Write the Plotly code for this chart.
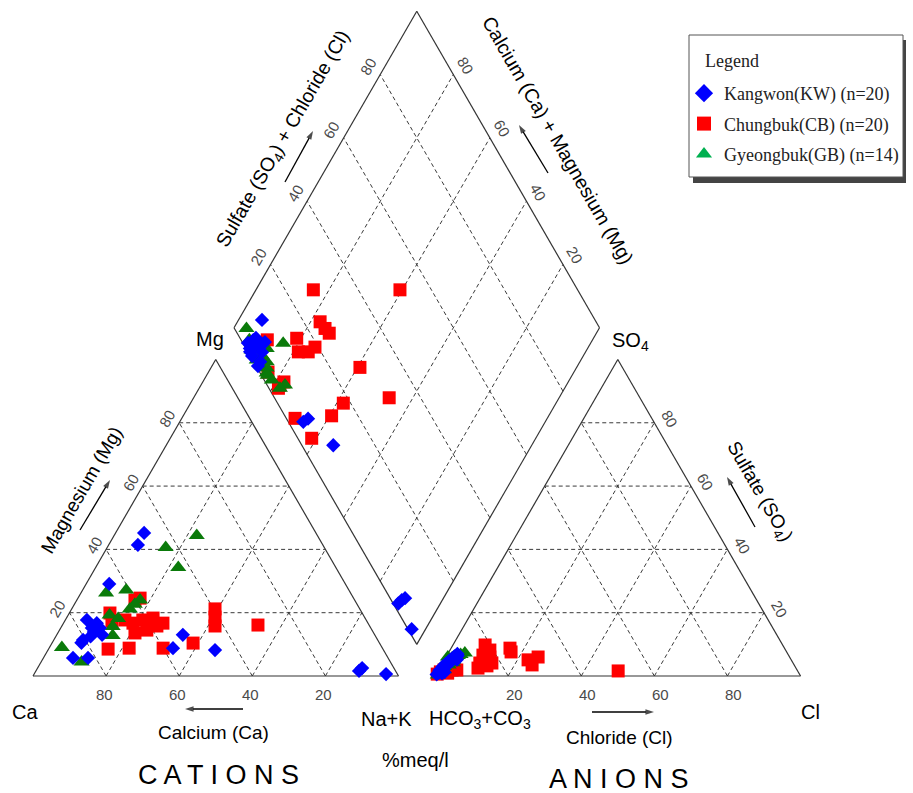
import numpy as np
import plotly.graph_objects as go

# ---------------------------------------------------------------
# Sample chemistry, % meq/l
# ---------------------------------------------------------------
# Cation triangle: Ca and Mg (Na+K is the remainder to 100)
kw_ca = [47.0, 50.6, 64.6, 76.4, 74.2, 74.6, 76.4, 80.6, 86.2, 82.1,
         52.5, 57.3, 46.1, 10.0, 3.1, 76.3, 74.1, 8.7, 81.5, 78.0]
kw_mg = [45.2, 41.4, 29.1, 17.7, 16.7, 13.0, 13.9, 11.4, 5.7, 5.7,
         13.0, 8.8, 8.2, 1.6, 0.6, 15.2, 15.2, 2.5, 10.5, 12.5]
cb_ca = [75.2, 69.3, 60.0, 51.0, 30.4, 69.0, 60.1, 39.6, 40.9, 42.3,
         64.3, 61.1, 58.0, 56.1, 65.3, 61.6, 66.0, 69.7, 58.4, 58.2]
cb_mg = [8.5, 8.8, 8.8, 10.4, 16.1, 19.9, 24.0, 21.2, 18.6, 15.8,
         16.7, 17.7, 18.3, 16.7, 13.6, 14.5, 17.7, 17.4, 24.6, 15.8]
gb_ca = [33.0, 43.4, 43.1, 60.9, 66.9, 58.7, 62.9, 69.4, 67.6, 70.4,
         71.8, 87.6, 84.5, 60.8]
gb_mg = [44.4, 40.6, 34.3, 27.2, 26.2, 24.0, 21.2, 19.3, 18.2, 15.6,
         12.8, 9.0, 4.4, 22.7]

# Anion triangle: Cl and SO4 (HCO3+CO3 is the remainder to 100)
kw_cl = [0.2, 0.5, 0.8, 1.0, 1.2, 0.6, 1.5, 1.0, 1.8, 1.4,
         2.2, 1.8, 2.6, 2.2, 3.0, 2.6, 0.3, 2.0, 1.5, 3.4]
kw_so4 = [0.5, 1.0, 1.5, 2.0, 2.5, 3.0, 3.2, 3.8, 4.0, 4.6,
          4.8, 5.4, 5.6, 6.2, 6.4, 7.0, 1.8, 1.2, 0.8, 5.2]
cb_cl = [8.8, 10.9, 16.1, 17.0, 10.2, 12.6, 10.5, 22.9, 25.2, 24.8,
         49.3, 5.0, 0.8, 13.5, 9.8, 1.5, 3.0, 0.3, 3.7, 12.0]
cb_so4 = [9.8, 8.2, 8.8, 7.6, 4.1, 3.2, 2.5, 5.1, 6.0, 3.5,
          1.6, 1.9, 1.3, 4.1, 6.6, 1.9, 0.9, 0.6, 1.9, 6.0]
gb_cl = [4.5, 0.5, 0.6, 3.0, 2.5, 1.0, 1.5, 2.0, 0.8, 3.6,
         1.2, 2.8, 0.3, 1.8]
gb_so4 = [7.3, 6.0, 0.3, 6.5, 5.0, 3.0, 2.0, 3.5, 1.2, 6.8,
          4.5, 4.2, 2.2, 5.8]

# Diamond: Ca+Mg and SO4+Cl
kw_camg = [93.6, 92.8, 90.6, 92.4, 87.5, 65.4, 66.2, 54.3, 11.1, 11.5,
           3.8, 10.5, 93.8, 92.4, 88.5, 90.6, 91.8, 87.4, 89.3, 91.5]
kw_so4cl = [8.9, 3.3, 4.0, 1.1, 1.8, 5.9, 4.1, 8.6, 2.9, 1.4,
            1.0, 4.1, 1.4, 4.4, 3.8, 0.5, 0.6, 0.5, 6.2, 2.8]
cb_camg = [84.3, 60.6, 77.4, 75.0, 73.1, 81.2, 89.0, 78.6, 75.9, 74.8,
           59.3, 78.4, 78.3, 46.5, 58.2, 59.4, 69.0, 61.3, 83.7, 77.8]
cb_so4cl = [27.7, 51.4, 24.5, 24.8, 25.2, 15.5, 7.2, 13.8, 16.5, 19.1,
            28.2, 3.5, 2.6, 31.4, 18.0, 12.8, 2.4, 3.8, 2.3, 5.1]
gb_camg = [96.5, 84.1, 87.8, 91.7, 88.7, 85.7, 84.7, 83.9, 83.3, 77.0,
           77.9, 93.9, 87.9, 81.4]
gb_so4cl = [3.3, 11.0, 5.7, 1.3, 1.1, 3.6, 2.6, 1.8, 1.7, 4.9,
            3.0, 2.3, 3.2, 2.1]

groups = [
    dict(name="Kangwon(KW) (n=20)", ca=kw_ca, mg=kw_mg, cl=kw_cl, so4=kw_so4,
         camg=kw_camg, so4cl=kw_so4cl, symbol="diamond", size=11,
         color="#0000FF", legend_color="#0000FF"),
    dict(name="Chungbuk(CB) (n=20)", ca=cb_ca, mg=cb_mg, cl=cb_cl, so4=cb_so4,
         camg=cb_camg, so4cl=cb_so4cl, symbol="square", size=13,
         color="#FF0000", legend_color="#FF0000"),
    dict(name="Gyeongbuk(GB) (n=14)", ca=gb_ca, mg=gb_mg, cl=gb_cl, so4=gb_so4,
         camg=gb_camg, so4cl=gb_so4cl, symbol="triangle-up", size=14,
         color="#0A7A0A", legend_color="#00B050"),
]

# ---------------------------------------------------------------
# Piper geometry (one percent = one unit, triangle side = 100)
# ---------------------------------------------------------------
W, HGT = 913, 793
PX = 3.655              # screen pixels per unit
X0, Y0 = 33, 676        # screen position of the Ca corner
SIDE, GAP = 100.0, 10.0
S3 = np.sqrt(3) / 2
BX, BY = SIDE + GAP / 2, GAP * S3      # bottom vertex of the diamond

SANS = "Liberation Sans, Arial, sans-serif"
SERIF = "Liberation Serif, Times New Roman, serif"


def to_units(px, py):
    return (px - X0) / PX, (Y0 - py) / PX


def cation_xy(ca, mg):
    nak = 100 - np.asarray(ca) - np.asarray(mg)
    return nak + 0.5 * np.asarray(mg), S3 * np.asarray(mg)


def anion_xy(cl, so4):
    return SIDE + GAP + np.asarray(cl) + 0.5 * np.asarray(so4), S3 * np.asarray(so4)


def diamond_xy(camg, so4cl):
    camg, so4cl = np.asarray(camg), np.asarray(so4cl)
    return BX - 0.5 * camg + 0.5 * so4cl, BY + S3 * (camg + so4cl)


def seg_trace(segments, dash, width, color):
    xs, ys = [], []
    for (xa, ya), (xb, yb) in segments:
        xs += [float(xa), float(xb), None]
        ys += [float(ya), float(yb), None]
    return go.Scatter(x=xs, y=ys, mode="lines", hoverinfo="skip", showlegend=False,
                      line=dict(color=color, width=width, dash=dash))


levels = [20, 40, 60, 80]
grid = []
for k in levels:
    # cation triangle
    grid.append((cation_xy(100 - k, k), cation_xy(0, k)))
    grid.append((cation_xy(k, 0), cation_xy(k, 100 - k)))
    grid.append((cation_xy(100 - k, 0), cation_xy(0, 100 - k)))
    # anion triangle
    grid.append((anion_xy(0, k), anion_xy(100 - k, k)))
    grid.append((anion_xy(k, 0), anion_xy(k, 100 - k)))
    grid.append((anion_xy(100 - k, 0), anion_xy(0, 100 - k)))
    # diamond
    grid.append((diamond_xy(k, 0), diamond_xy(k, 100)))
    grid.append((diamond_xy(0, k), diamond_xy(100, k)))

outline = []
cat_c = [cation_xy(100, 0), cation_xy(0, 0), cation_xy(0, 100)]
an_c = [anion_xy(0, 0), anion_xy(100, 0), anion_xy(0, 100)]
dia_c = [diamond_xy(0, 0), diamond_xy(100, 0), diamond_xy(100, 100), diamond_xy(0, 100)]
for poly in (cat_c, an_c, dia_c):
    for i in range(len(poly)):
        outline.append((poly[i], poly[(i + 1) % len(poly)]))

fig = go.Figure()
fig.add_trace(seg_trace(grid, "4px,3px", 1, "#3a3a3a"))
fig.add_trace(seg_trace(outline, "solid", 1.2, "#333333"))


def arrow_px(tail, head):
    """Thin black arrow from tail to head (screen pixel positions)."""
    tx, ty = to_units(*tail)
    hx, hy = to_units(*head)
    fig.add_trace(go.Scatter(
        x=[tx, hx], y=[ty, hy], mode="lines+markers", hoverinfo="skip",
        showlegend=False, line=dict(color="black", width=1.3),
        marker=dict(symbol=["circle", "arrow"], size=[0, 9], color="black",
                    angleref="previous", line=dict(width=0))))


arrow_px((80, 530), (110, 480))
arrow_px((285, 182), (313, 131))
arrow_px((548, 173), (519, 125))
arrow_px((755, 527), (727, 477))
arrow_px((243, 709), (185, 709))
arrow_px((592, 712), (654, 712))

# sample markers: red first, then green, then blue on top
for g in (groups[1], groups[2], groups[0]):
    cx, cy = cation_xy(g["ca"], g["mg"])
    ax_, ay_ = anion_xy(g["cl"], g["so4"])
    dx, dy = diamond_xy(g["camg"], g["so4cl"])
    fig.add_trace(go.Scatter(
        x=np.concatenate([cx, ax_, dx]), y=np.concatenate([cy, ay_, dy]),
        mode="markers", showlegend=False, name=g["name"],
        marker=dict(symbol=g["symbol"], size=g["size"], color=g["color"],
                    line=dict(width=0))))

# legend entries
for i, g in enumerate(groups):
    fig.add_trace(go.Scatter(
        x=[None], y=[None], mode="markers", name=g["name"], legendgroup=f"g{i}",
        marker=dict(symbol=g["symbol"], size=14, color=g["legend_color"])))

annotations = []


def text_at(x, y, text, size=20, angle=0, color="black", family=SANS):
    annotations.append(dict(x=x, y=y, xref="x", yref="y", text=text, showarrow=False,
                            textangle=angle, xanchor="center", yanchor="middle",
                            font=dict(size=size, color=color, family=family)))


def text_px(px, py, text, **kw):
    x, y = to_units(px, py)
    text_at(x, y, text, **kw)


# tick labels
TICK = dict(size=15, color="#4a4a4a")
ty_bottom = (Y0 - 694) / PX
for k in levels:
    x, y = cation_xy(k, 0)
    text_at(float(x) - 2 / PX, ty_bottom, str(k), **TICK)
    x, y = cation_xy(100 - k, k)
    text_at(float(x) - 12 / PX, float(y) + 4 / PX, str(k), angle=-60, **TICK)
    x, y = anion_xy(k, 0)
    text_at(float(x) + 6 / PX, ty_bottom, str(k), **TICK)
    x, y = anion_xy(100 - k, k)
    text_at(float(x) + 15 / PX, float(y) + 4 / PX, str(k), angle=60, **TICK)
    x, y = diamond_xy(100, k)
    text_at(float(x) - 12 / PX, float(y) + 8 / PX, str(k), angle=-60, **TICK)
    x, y = diamond_xy(k, 100)
    text_at(float(x) + 12 / PX, float(y) + 9 / PX, str(k), angle=60, **TICK)

# corner and axis titles
text_px(210, 339, "Mg", size=20)
text_px(630, 341, "SO<sub>4</sub>", size=20)
text_px(25, 712, "Ca", size=20)
text_px(810, 712, "Cl", size=20)
text_px(386, 719, "Na+K", size=20)
text_px(480, 719, "HCO<sub>3</sub>+CO<sub>3</sub>", size=20)
text_px(415, 760, "%meq/l", size=20)
text_px(213, 732, "Calcium (Ca)", size=19)
text_px(619, 737, "Chloride (Cl)", size=19)
text_px(218, 775, "C A T I O N S", size=27)
text_px(619, 779, "A N I O N S", size=27)

text_px(81, 490, "Magnesium (Mg)", size=19, angle=-60)
text_px(283, 139, "Sulfate (SO<sub>4</sub>) + Chloride (Cl)", size=19.5, angle=-60)
text_px(558, 140, "Calcium (Ca) + Magnesium (Mg)", size=19.5, angle=60)
text_px(759, 492, "Sulfate (SO<sub>4</sub>)", size=19, angle=60)

# legend frame with drop shadow, title as text
shapes = [
    dict(type="rect", xref="paper", yref="paper", layer="below",
         x0=693 / W, x1=906 / W, y0=1 - 183 / HGT, y1=1 - 40 / HGT,
         fillcolor="#444444", line=dict(width=0)),
    dict(type="rect", xref="paper", yref="paper", layer="below",
         x0=689 / W, x1=903 / W, y0=1 - 177 / HGT, y1=1 - 35 / HGT,
         fillcolor="white", line=dict(color="#555555", width=1)),
]
annotations.append(dict(x=703 / W, y=1 - 61 / HGT, xref="paper", yref="paper",
                        text="Legend", showarrow=False, xanchor="left", yanchor="middle",
                        font=dict(family=SERIF, size=18, color="#222222")))

fig.update_layout(
    width=W, height=HGT, autosize=False,
    margin=dict(l=0, r=0, t=0, b=0),
    paper_bgcolor="white", plot_bgcolor="white",
    xaxis=dict(range=[-X0 / PX, (W - X0) / PX], visible=False, fixedrange=True),
    yaxis=dict(range=[(Y0 - HGT) / PX, Y0 / PX], visible=False, fixedrange=True),
    annotations=annotations,
    shapes=shapes,
    legend=dict(x=684 / W, y=1 - 75 / HGT, xanchor="left", yanchor="top",
                bgcolor="rgba(0,0,0,0)", borderwidth=0,
                font=dict(family=SERIF, size=18, color="#222222"),
                tracegroupgap=4, itemsizing="trace"),
    showlegend=True,
)

fig.write_html("out.html")
